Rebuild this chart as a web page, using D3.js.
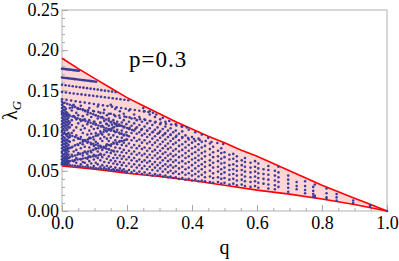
<!DOCTYPE html>
<html>
<head>
<meta charset="utf-8">
<script src="https://cdn.jsdelivr.net/npm/d3@7"></script>
<style>
  body { margin: 0; background: #fff; }
  svg { display: block; }
</style>
</head>
<body>
<div id="chart"></div>
<script>
// boundary curves (q, lambda_G)
var upperQ = [0, 0.05, 0.1, 0.15, 0.2, 0.25, 0.3, 0.35, 0.4, 0.45, 0.5, 0.55, 0.6, 0.65, 0.7, 0.75, 0.8, 0.85, 0.9, 0.95, 1];
var upperL = [0.190, 0.177, 0.165, 0.153, 0.141, 0.131, 0.121, 0.111, 0.102, 0.093, 0.085, 0.076, 0.068, 0.059, 0.050, 0.041, 0.032, 0.024, 0.016, 0.008, 0];
var lowerQ = [0, 0.1, 0.2, 0.3, 0.4, 0.5, 0.6, 0.7, 0.8, 0.9, 1];
var lowerL = [0.056, 0.052, 0.047, 0.043, 0.038, 0.032, 0.026, 0.021, 0.015, 0.008, 0];

// rows of dots in the upper left corner, [q, lambda]
var rowDots = [
  [[0,.177],[.004,.1768],[.008,.1766],[.012,.1764],[.016,.1762],[.02,.176],[.024,.1758],[.028,.1756],[.032,.1754],[.036,.1752],[.04,.175],[.044,.1748],[.048,.1746],[.052,.1744]],
  [[0,.166],[.005,.1658],[.01,.1655],[.015,.1653],[.02,.165],[.025,.1648],[.03,.1645],[.035,.1643],[.04,.164],[.045,.1638],[.05,.1635],[.055,.1633],[.06,.163],[.065,.1628],[.07,.1625],[.075,.1623],[.08,.162],[.085,.1618],[.09,.1615],[.095,.1613],[.1,.161],[.105,.1608]],
  [[0,.157],[.011,.1564],[.022,.1558],[.033,.1552],[.044,.1546],[.055,.154],[.066,.1534],[.077,.1528],[.088,.1522],[.099,.1516],[.11,.151],[.121,.1503],[.132,.1497],[.143,.1491],[.154,.1485],[.165,.1479]],
  [[0,.148],[.012,.1474],[.024,.1468],[.036,.1462],[.048,.1456],[.06,.145],[.072,.1444],[.084,.1438],[.096,.1432],[.108,.1426],[.12,.142],[.132,.1414],[.144,.1408],[.156,.1402],[.168,.1396],[.18,.139],[.192,.1384],[.204,.1378]],
  [[0,.139],[.014,.1382],[.028,.1373],[.042,.1365],[.056,.1356],[.07,.1348],[.084,.134],[.098,.1331],[.112,.1323],[.126,.1314],[.14,.1306],[.154,.1298],[.168,.1289],[.182,.1281],[.196,.1272],[.21,.1264],[.224,.1256],[.238,.1247],[.252,.1239],[.266,.123],[.28,.1222]],
  [[.032,.1288],[.048,.1276],[.064,.1265],[.08,.1254],[.096,.1243],[.112,.1232],[.128,.122],[.144,.1209],[.16,.1198],[.176,.1187],[.192,.1176],[.208,.1164],[.224,.1153],[.24,.1142],[.256,.1131],[.272,.112],[.288,.1108],[.304,.1097],[.32,.1086],[.336,.1075],[.352,.1064],[.368,.1052],[.384,.104]],
  [[.1,.111],[.118,.1097],[.136,.1085],[.154,.1072],[.172,.106],[.19,.1047],[.208,.1034],[.226,.1022],[.244,.1009],[.262,.0997],[.28,.0984],[.298,.0971],[.316,.0959],[.334,.0946],[.352,.0934],[.37,.0921],[.388,.0908],[.406,.0896],[.424,.0883],[.442,.0871],[.46,.0858],[.478,.0845],[.496,.0833]],
  [[.25,.128],[.27,.124],[.29,.12],[.31,.116],[.33,.112],[.35,.108],[.37,.105],[.39,.101],[.41,.098],[.43,.095],[.45,.091]]
];

// crossing lines of dots in the dense region
var lineDots = [
  [[0,.136],[.008,.1347],[.016,.1334],[.024,.1321],[.032,.1308],[.04,.1295],[.048,.1281],[.056,.1268],[.064,.1255],[.072,.1242],[.08,.1229],[.088,.1216],[.096,.1203],[.104,.119],[.112,.1177],[.12,.1164],[.128,.1151],[.136,.1138],[.144,.1124],[.152,.1111],[.16,.1098],[.168,.1085],[.176,.1072],[.184,.1059],[.192,.1046],[.2,.1033],[.208,.102],[.216,.1007]],
  [[0,.122],[.008,.1209],[.016,.1198],[.024,.1186],[.032,.1175],[.04,.1164],[.048,.1153],[.056,.1142],[.064,.113],[.072,.1119],[.08,.1108],[.088,.1097],[.096,.1086],[.104,.1074],[.112,.1063],[.12,.1052],[.128,.1041],[.136,.103],[.144,.1018],[.152,.1007],[.16,.0996],[.168,.0985],[.176,.0974],[.184,.0962],[.192,.0951],[.2,.094]],
  [[0,.074],[.008,.0755],[.016,.077],[.024,.0785],[.032,.08],[.04,.0816],[.048,.0831],[.056,.0846],[.064,.0861],[.072,.0876],[.08,.0891],[.088,.0906],[.096,.0921],[.104,.0937],[.112,.0952],[.12,.0967],[.128,.0982],[.136,.0997],[.144,.1012],[.152,.1027],[.16,.1042],[.168,.1058],[.176,.1073]],
  [[0,.064],[.008,.065],[.016,.066],[.024,.067],[.032,.068],[.04,.069],[.048,.07],[.056,.071],[.064,.072],[.072,.073],[.08,.074],[.088,.075],[.096,.076],[.104,.077],[.112,.078],[.12,.079],[.128,.08],[.136,.081],[.144,.082],[.152,.083],[.16,.084],[.168,.085],[.176,.086],[.184,.087],[.192,.088],[.2,.089]],
  [[0,.098],[.008,.0968],[.016,.0956],[.024,.0944],[.032,.0932],[.04,.092],[.048,.0908],[.056,.0896],[.064,.0884],[.072,.0872],[.08,.086],[.088,.0848],[.096,.0836],[.104,.0824],[.112,.0812],[.12,.08],[.128,.0788],[.136,.0776],[.144,.0764],[.152,.0752],[.16,.074]],
  [[0,.058],[.008,.0577],[.016,.0573],[.024,.0569],[.032,.0566],[.04,.0562],[.048,.0558],[.056,.0555],[.064,.0551],[.072,.0547],[.08,.0543],[.088,.054],[.096,.0536],[.104,.0532],[.112,.0529],[.12,.0525],[.128,.0521],[.136,.0518],[.144,.0514],[.152,.051],[.16,.0507],[.168,.0503],[.176,.0499],[.184,.0496],[.192,.0492],[.2,.0488]],
  [[0,.06],[.008,.0607],[.016,.0613],[.024,.062],[.032,.0627],[.04,.0633],[.048,.064],[.056,.0647],[.064,.0653],[.072,.066],[.08,.0667],[.088,.0673],[.096,.068],[.104,.0687],[.112,.0693],[.12,.07]]
];

// scattered dots as columns: [q, lambda, lambda, ...]
var dotColumns = [
  [0, .100,.104,.108,.112,.116,.120,.124,.128,.132],
  [.004, .102,.106,.110,.114,.118,.122,.126,.130,.134],
  [.008, .100,.105,.109,.113,.117,.121,.125,.129],
  [.012, .103,.107,.111,.115,.119,.123,.127],
  [.016, .101,.106,.110,.114,.118,.122],
  [.02, .104,.108,.112,.116,.120],
  [0, .060,.064,.068,.072,.078,.082,.086,.090,.094],
  [.004, .058,.062,.066,.070,.076,.080,.084,.088,.092,.096],
  [.008, .059,.063,.067,.071,.075,.079,.083,.087,.091],
  [.012, .058,.061,.065,.069,.073,.077,.081,.085,.089,.095],
  [.016, .060,.063,.067,.071,.076,.080,.084,.088,.093],
  [.02, .059,.062,.066,.070,.074,.078,.082,.087,.091,.097],
  [.024, .086,.092,.104,.110,.128],
  [.03, .070,.079,.097,.107,.113,.125],
  [.036, .062,.074,.088,.100,.118,.132],
  [.044, .060,.066,.076,.094,.104,.114,.122],
  [.05, .072,.082,.090,.109,.119,.127],
  [.058, .058,.064,.078,.092,.101,.112,.131],
  [.064, .061,.069,.083,.097,.106,.118],
  [.07, .060,.074,.080,.088,.103,.114,.125],
  [.078, .057,.065,.071,.085,.095,.108,.120],
  [.084, .062,.068,.079,.091,.100,.113,.128],
  [.09, .059,.073,.083,.096,.105,.117],
  [.098, .056,.064,.070,.081,.089,.102,.111,.124],
  [.104, .060,.068,.078,.086,.097,.108,.119],
  [.11, .058,.066,.074,.084,.094,.103,.115,.130],
  [.118, .055,.063,.071,.081,.090,.099,.110,.122],
  [.124, .057,.067,.076,.087,.095,.106,.117],
  [.13, .054,.061,.070,.079,.092,.101,.112,.126],
  [.138, .056,.065,.073,.083,.090,.099,.108,.119],
  [.144, .053,.060,.068,.077,.087,.095,.106,.115],
  [.15, .055,.063,.072,.081,.091,.100,.110,.121,.132],
  [.158, .052,.059,.066,.075,.085,.094,.104,.113],
  [.164, .054,.062,.070,.079,.088,.098,.108,.118,.127],
  [.17, .051,.058,.066,.074,.083,.092,.101,.111],
  [.178, .053,.061,.069,.078,.087,.096,.106,.116,.124],
  [.184, .050,.057,.065,.073,.082,.091,.100,.110],
  [.19, .052,.060,.068,.076,.085,.094,.104,.113,.121],
  [.198, .049,.056,.064,.072,.081,.089,.098,.108,.117],
  [.206, .051,.059,.067,.075,.084,.093,.102,.111,.125],
  [.214, .048,.055,.063,.071,.079,.088,.097,.106,.115],
  [.222, .050,.058,.066,.074,.082,.091,.100,.109,.120],
  [.23, .047,.054,.062,.070,.078,.087,.096,.104,.113],
  [.238, .049,.057,.064,.072,.081,.089,.098,.107,.117],
  [.246, .046,.053,.061,.069,.077,.085,.094,.102,.111],
  [.254, .048,.056,.063,.071,.079,.088,.096,.105,.114,.124],
  [.262, .045,.052,.060,.067,.075,.084,.092,.100,.109],
  [.27, .047,.055,.062,.070,.078,.086,.095,.103,.112,.120],
  [.278, .044,.051,.058,.066,.074,.082,.090,.098,.107],
  [.286, .046,.054,.061,.069,.076,.085,.093,.101,.110,.117],
  [.294, .044,.050,.057,.065,.072,.080,.088,.096,.104],
  [.302, .045,.053,.060,.067,.075,.083,.091,.099,.108,.114],
  [.31, .043,.049,.056,.063,.071,.078,.086,.094,.102],
  [.318, .044,.052,.058,.066,.073,.081,.089,.097,.105,.111],
  [.326, .042,.048,.055,.062,.069,.077,.084,.092,.100],
  [.334, .043,.050,.057,.064,.071,.079,.087,.095,.103],
  [.342, .041,.047,.054,.061,.068,.075,.083,.090,.098],
  [.35, .042,.049,.056,.063,.070,.077,.085,.092,.100],
  [.36, .040,.046,.053,.060,.067,.074,.081,.088,.096],
  [.37, .041,.048,.055,.062,.069,.076,.083,.091,.099],
  [.38, .039,.045,.052,.059,.066,.072,.079,.086,.094],
  [.39, .040,.047,.054,.061,.068,.075,.082,.089],
  [.40, .038,.044,.050,.057,.064,.071,.078,.085,.092],
  [.41, .039,.046,.053,.060,.066,.073,.080,.087],
  [.42, .037,.043,.049,.056,.063,.069,.076,.083,.090],
  [.43, .038,.045,.052,.058,.065,.072,.079,.086],
  [.44, .037,.042,.048,.055,.061,.068,.074,.081],
  [.455, .036,.043,.050,.057,.063,.070,.077,.084],
  [.465, .035,.041,.047,.054,.060,.067,.073,.080],
  [.48, .036,.042,.049,.055,.062,.068,.075],
  [.49, .034,.040,.046,.052,.059,.065,.072,.078],
  [.50, .035,.041,.048,.054,.060,.067,.073],
  [.515, .033,.039,.045,.051,.057,.064,.070],
  [.527, .034,.040,.046,.052,.058,.065,.071],
  [.538, .032,.038,.044,.050,.056,.062,.068],
  [.553, .033,.039,.045,.051,.057,.063],
  [.563, .031,.037,.043,.049,.055,.061,.066],
  [.58, .030,.036,.042,.048,.054,.060],
  [.594, .031,.037,.043,.049,.055,.062],
  [.604, .029,.035,.041,.047,.053,.059],
  [.62, .034,.040,.046,.052],
  [.635, .028,.033,.039,.045,.051,.056],
  [.655, .027,.032,.038,.044,.050],
  [.666, .030,.036,.042,.048,.055],
  [.696, .024,.029,.034,.039,.044],
  [.722, .027,.031,.036],
  [.748, .022,.026,.031,.037],
  [.773, .018,.021,.025,.030],
  [.778, .017,.019,.033],
  [.814, .015,.017,.022,.028],
  [.845, .013,.017,.021],
  [.896, .010,.013],
  [.948, .005,.007],
  [1.0, 0]
];

var xTicks = [0, 0.2, 0.4, 0.6, 0.8, 1.0];
var yTicks = [0, 0.05, 0.1, 0.15, 0.2, 0.25];
var xMinor = d3.range(0, 1.0001, 0.05);
var yMinor = d3.range(0, 0.2501, 0.01);

function drawChart() {
  var width = 399, height = 261;
  var mLeft = 62, mRight = 387, mTop = 10, mBottom = 211;
  var serif = 'Liberation Serif';

  var svg = d3.select('#chart').append('svg')
    .attr('width', width)
    .attr('height', height);

  var x = d3.scaleLinear().domain([0, 1]).range([mLeft, mRight]);
  var y = d3.scaleLinear().domain([0, 0.25]).range([mBottom, mTop]);

  var upper = upperQ.map((q, i) => [q, upperL[i]]);
  var lower = lowerQ.map((q, i) => [q, lowerL[i]]);
  var line = d3.line().x(d => x(d[0])).y(d => y(d[1]));

  // pink region between the two curves
  var region = upper.concat(lower.slice().reverse());
  svg.append('path')
    .attr('d', line(region) + 'Z')
    .attr('fill', '#ffd6d6');

  // frame
  svg.append('rect')
    .attr('x', mLeft).attr('y', mTop)
    .attr('width', mRight - mLeft).attr('height', mBottom - mTop)
    .attr('fill', 'none')
    .attr('stroke', '#b0b0b0')
    .attr('stroke-width', 1);

  function styleAxis(g) {
    g.select('.domain').remove();
    g.selectAll('line').attr('stroke', '#a8a8a8');
    g.selectAll('text')
      .attr('fill', '#000')
      .style('font-family', serif)
      .style('font-size', '18px');
  }

  // minor ticks first, major on top
  svg.append('g').attr('transform', `translate(${mLeft},0)`)
    .call(d3.axisLeft(y).tickValues(yMinor).tickSize(-3).tickFormat(''))
    .call(styleAxis);
  svg.append('g').attr('transform', `translate(0,${mBottom})`)
    .call(d3.axisBottom(x).tickValues(xMinor).tickSize(-3).tickFormat(''))
    .call(styleAxis);

  svg.append('g').attr('transform', `translate(${mLeft},0)`)
    .call(d3.axisLeft(y).tickValues(yTicks).tickSize(-6).tickPadding(3).tickFormat(d3.format('.2f')))
    .call(styleAxis);
  svg.append('g').attr('transform', `translate(0,${mBottom})`)
    .call(d3.axisBottom(x).tickValues(xTicks).tickSize(-6).tickPadding(5).tickFormat(d3.format('.1f')))
    .call(styleAxis);

  // boundary lines
  [upper, lower].forEach(function(pts) {
    svg.append('path')
      .attr('d', line(pts))
      .attr('fill', 'none')
      .attr('stroke', '#ff0000')
      .attr('stroke-width', 1.6);
  });

  // collect all dots
  var dots = [];
  rowDots.forEach(r => r.forEach(p => dots.push(p)));
  lineDots.forEach(r => r.forEach(p => dots.push(p)));
  dotColumns.forEach(function(c) {
    for (let i = 1; i < c.length; i++) dots.push([c[0], c[i]]);
  });

  svg.append('g').selectAll('circle')
    .data(dots)
    .enter()
    .append('circle')
    .attr('cx', d => x(d[0]))
    .attr('cy', d => y(d[1]))
    .attr('r', 1.3)
    .attr('fill', '#3d3d99');

  // labels
  svg.append('text')
    .attr('x', (mLeft + mRight) / 2)
    .attr('y', 254)
    .attr('text-anchor', 'middle')
    .style('font-family', serif)
    .style('font-size', '20px')
    .text('q');

  var yl = svg.append('text')
    .attr('transform', `translate(17,${(mTop + mBottom) / 2}) rotate(-90)`)
    .attr('text-anchor', 'middle')
    .style('font-family', serif)
    .style('font-size', '20px');
  yl.append('tspan').text('λ');
  yl.append('tspan').attr('dy', 4).style('font-size', '13px').style('font-style', 'italic').text('G');

  svg.append('text')
    .attr('x', 129)
    .attr('y', 67)
    .style('font-family', serif)
    .style('font-size', '23px')
    .style('letter-spacing', '1px')
    .text('p=0.3');
}

drawChart();
</script>
</body>
</html>
